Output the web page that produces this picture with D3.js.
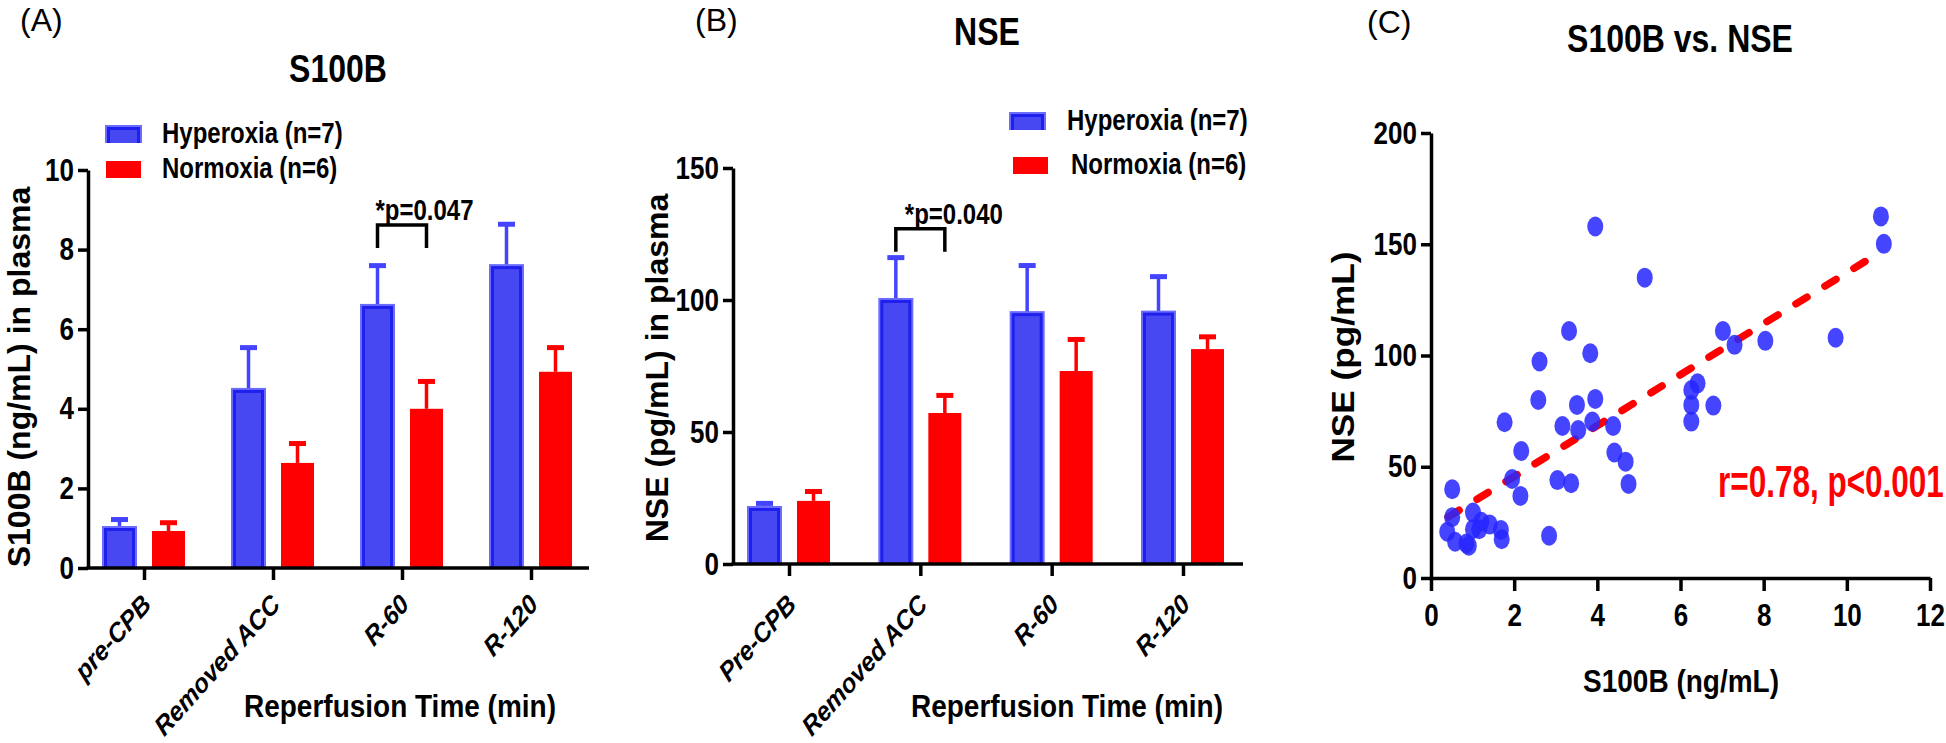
<!DOCTYPE html>
<html>
<head>
<meta charset="utf-8">
<script src="https://cdnjs.cloudflare.com/ajax/libs/d3/7.8.5/d3.min.js"></script>
<style>
	body { margin: 0; background: #fff; }
	svg text { font-family: "Liberation Sans", Arial, Helvetica, sans-serif; font-weight: bold; fill: #000; }
	.axis path, .axis line { stroke: #000; stroke-width: 3.5; }
</style>
</head>
<body>
<svg id="chart" width="1946" height="743"></svg>
<script>

	// ---- Data ---- //
	const groups = ["Hyperoxia (n=7)", "Normoxia (n=6)"];
	const timesA = ["pre-CPB", "Removed ACC", "R-60", "R-120"];
	const timesB = ["Pre-CPB", "Removed ACC", "R-60", "R-120"];

	// S100B (ng/mL), mean and upper error
	const s100bHyper = [1.03, 4.50, 6.61, 7.61];
	const s100bHyperErr = [0.25, 1.10, 1.05, 1.09];
	const s100bNormo = [0.93, 2.64, 4.00, 4.93];
	const s100bNormoErr = [0.27, 0.55, 0.75, 0.67];
	const s100bTicks = [0, 2, 4, 6, 8, 10];

	// NSE (pg/mL), mean and upper error
	const nseHyper = [21.6, 100.4, 95.4, 95.6];
	const nseHyperErr = [2.3, 16.6, 18.6, 14.2];
	const nseNormo = [23.9, 57.2, 73.1, 81.4];
	const nseNormoErr = [4.5, 7.6, 12.9, 5.6];
	const nseTicks = [0, 50, 100, 150];

	// significance brackets
	const sigA = { cat: "R-60", level: 8.62, label: "*p=0.047" };
	const sigB = { cat: "Removed ACC", level: 127, label: "*p=0.040" };

	// scatter: S100B vs NSE
	const scatS100b = [3.95, 5.14, 3.32, 3.83, 2.61, 7.02, 7.30, 8.04, 9.73, 10.82, 10.89,
		6.41, 6.26, 6.26, 6.26, 6.79, 2.58, 1.77, 3.51, 3.95, 3.88, 3.16, 3.54, 4.38,
		2.17, 4.41, 4.68, 1.95, 3.04, 3.37, 4.75, 2.15, 0.51, 2.84, 0.51, 1.01, 0.39,
		0.58, 0.91, 0.85, 1.01, 1.21, 1.16, 1.41, 1.68, 1.70];
	const scatNse = [158, 135, 111, 101, 97.3, 111, 104.8, 106.6, 108, 162.5, 150.2,
		87.5, 84.5, 77.8, 70.3, 77.5, 80, 70, 77.8, 80.5, 70.3, 68.3, 66.5, 68.3,
		57.1, 56.4, 52.3, 44.5, 44, 42.6, 42.3, 36.9, 39.9, 19, 27.3, 29.4, 20.8,
		16.3, 14.5, 15.5, 21.9, 25.3, 21.9, 24.1, 21.6, 17.4];
	const fitX = [0.41, 10.82];
	const fitY = [27.4, 146.6];
	const corrLabel = "r=0.78, p<0.001";
	const scatXTicks = [0, 2, 4, 6, 8, 10, 12];
	const scatYTicks = [0, 50, 100, 150, 200];

	// ---- Setup ---- //
	const svg = d3.select("#chart");
	const blue = "#4444ff", red = "#ff0000";
	const barW = 33, barOff = 24.5, capW = 17;
	const K = 1.22; // vertical stretch of the lettering

	function txt(g, x, y, s, o) {
		o = o || {};
		let tr = "translate(" + x + "," + y + ") scale(1," + (o.k || 1) + ")";
		if (o.rotate) tr += " rotate(" + o.rotate + ")";
		return g.append("text")
			.attr("transform", tr)
			.attr("text-anchor", o.anchor || "start")
			.style("font-size", (o.size || 24) + "px")
			.style("font-weight", o.weight || "bold")
			.style("font-style", o.italic ? "italic" : "normal")
			.style("fill", o.fill || "#000")
			.text(s);
	}

	function drawBar(g, x, y, w, h, idx) {
		if (idx === 0) {
			g.append("rect").attr("x", x - 1).attr("y", y - 1).attr("width", w + 2).attr("height", h + 1).attr("fill", "#6c6cff");
			g.append("rect").attr("x", x + 1).attr("y", y + 1).attr("width", w - 2).attr("height", h - 1).attr("fill", "#1f1fee");
			g.append("rect").attr("x", x + 4).attr("y", y + 4).attr("width", w - 8).attr("height", h - 4).attr("fill", "#4848f2");
		} else {
			g.append("rect").attr("x", x).attr("y", y).attr("width", w).attr("height", h).attr("fill", red);
		}
	}

	function barPanel(cfg) {
		let g = svg.append("g");
		let x = d3.scalePoint().domain(cfg.cats).range(cfg.xRange);
		let y = d3.scaleLinear().domain([0, cfg.ticks[cfg.ticks.length - 1]]).range(cfg.yRange);

		// BARS + ERRORS
		cfg.series.forEach((s, si) => {
			let off = si === 0 ? -barOff : barOff;
			let col = si === 0 ? blue : red;
			s.vals.forEach((v, i) => {
				let cx = x(cfg.cats[i]) + off;
				let top = y(v + s.err[i]);
				g.append("line")
					.attr("x1", cx).attr("x2", cx)
					.attr("y1", y(v)).attr("y2", top + 2)
					.attr("stroke", col).attr("stroke-width", 3.5);
				g.append("rect")
					.attr("x", cx - capW / 2).attr("y", top)
					.attr("width", capW).attr("height", 5)
					.attr("fill", col);
				drawBar(g, cx - barW / 2, y(v), barW, y(0) - y(v), si);
			});
		});

		// Y-AXIS
		g.append("g")
			.attr("class", "axis")
			.attr("transform", "translate(" + cfg.axisX + ",0)")
			.call(d3.axisLeft(y).tickValues(cfg.ticks).tickSize(10).tickPadding(4).tickSizeOuter(0))
			.selectAll("text")
				.attr("transform", "scale(1," + K + ")")
				.style("font-size", "26px");

		// X-AXIS
		let xa = g.append("g")
			.attr("class", "axis")
			.attr("transform", "translate(0," + y(0) + ")")
			.call(d3.axisBottom(x).tickSize(12).tickSizeOuter(0));
		xa.select(".domain").remove();
		xa.append("line")
			.attr("x1", cfg.axisX - 1.5).attr("x2", cfg.axisEnd)
			.attr("stroke", "#000").attr("stroke-width", 3.5);
		xa.selectAll(".tick text")
			.attr("x", 0).attr("y", 0).attr("dy", 0)
			.attr("transform", "translate(8," + (606 - cfg.yRange[0] + 568 - 568) + ") scale(1,1.12) rotate(-45)")
			.attr("text-anchor", "end")
			.style("font-size", "24px")
			.style("font-style", "italic");

		// SIGNIFICANCE
		let bx1 = x(cfg.sig.cat) - barOff, bx2 = x(cfg.sig.cat) + barOff, by = y(cfg.sig.level);
		g.append("path")
			.attr("d", d3.line()([[bx1, by + 23], [bx1, by], [bx2, by], [bx2, by + 23]]))
			.attr("fill", "none").attr("stroke", "#000").attr("stroke-width", 3.5);
		txt(g, bx1 + cfg.sigDx, by - 5, cfg.sig.label, { size: 24, k: K });

		// LEGEND
		cfg.legend.forEach((l, i) => {
			drawBar(g, l.x, l.y, 35, 17, i);
			txt(g, l.tx, l.y + 17, groups[i], { size: 24, k: K });
		});

		// TITLES
		txt(g, cfg.title.x, cfg.title.y, cfg.title.text, { size: 32, anchor: "middle", k: K });
		txt(g, cfg.ylab.x, cfg.ylab.y, cfg.ylab.text, { size: 32, anchor: "middle", rotate: -90 });
		txt(g, cfg.xlab.x, 717, "Reperfusion Time (min)", { size: 28, anchor: "middle", k: 1.15 });
		txt(g, cfg.tag.x, 31, cfg.tag.text, { size: 32, weight: "normal" });
	}

	// Panel A
	barPanel({
		cats: timesA, ticks: s100bTicks,
		xRange: [144, 531], yRange: [568, 170], axisX: 88, axisEnd: 589,
		series: [{ vals: s100bHyper, err: s100bHyperErr }, { vals: s100bNormo, err: s100bNormoErr }],
		sig: sigA, sigDx: -2,
		legend: [{ x: 106, y: 126, tx: 162 }, { x: 106, y: 161, tx: 162 }],
		title: { x: 338, y: 82, text: "S100B" },
		ylab: { x: 30, y: 377, text: "S100B (ng/mL) in plasma" },
		xlab: { x: 400 },
		tag: { x: 20, text: "(A)" }
	});

	// Panel B
	barPanel({
		cats: timesB, ticks: nseTicks,
		xRange: [789, 1183], yRange: [564, 168], axisX: 733, axisEnd: 1243,
		series: [{ vals: nseHyper, err: nseHyperErr }, { vals: nseNormo, err: nseNormoErr }],
		sig: sigB, sigDx: 9,
		legend: [{ x: 1010, y: 113, tx: 1067 }, { x: 1013, y: 157, tx: 1071 }],
		title: { x: 987, y: 45, text: "NSE" },
		ylab: { x: 668, y: 368, text: "NSE (pg/mL) in plasma" },
		xlab: { x: 1067 },
		tag: { x: 695, text: "(B)" }
	});

	// Panel C
	{
		let g = svg.append("g");
		let x = d3.scaleLinear().domain([0, 12]).range([1431, 1930]);
		let y = d3.scaleLinear().domain([0, 200]).range([578, 133]);

		// FIT LINE
		g.append("line")
			.attr("x1", x(fitX[0])).attr("y1", y(fitY[0]))
			.attr("x2", x(fitX[1])).attr("y2", y(fitY[1]))
			.attr("stroke", red).attr("stroke-width", 7.5)
			.attr("stroke-linecap", "round")
			.attr("stroke-dasharray", "13 21");

		// DOTS
		g.selectAll("ellipse")
			.data(d3.zip(scatS100b, scatNse))
			.enter().append("ellipse")
			.attr("cx", d => x(d[0]))
			.attr("cy", d => y(d[1]))
			.attr("rx", 8)
			.attr("ry", 10)
			.attr("fill", "#2626ff")
			.attr("fill-opacity", 0.86);

		// AXES
		g.append("g")
			.attr("class", "axis")
			.attr("transform", "translate(" + x(0) + ",0)")
			.call(d3.axisLeft(y).tickValues(scatYTicks).tickSize(10).tickPadding(4).tickSizeOuter(0))
			.selectAll("text")
				.attr("transform", "scale(1," + K + ")")
				.style("font-size", "26px");
		g.append("g")
			.attr("class", "axis")
			.attr("transform", "translate(0," + y(0) + ")")
			.call(d3.axisBottom(x).tickValues(scatXTicks).tickSize(13).tickPadding(8).tickSizeOuter(0))
			.selectAll("text")
				.attr("transform", "scale(1," + K + ")")
				.style("font-size", "26px");

		txt(g, 1718, 497, corrLabel, { size: 31.5, fill: red, k: 1.4 });
		txt(g, 1680, 52, "S100B vs. NSE", { size: 32, anchor: "middle", k: K });
		txt(g, 1681, 692, "S100B (ng/mL)", { size: 28, anchor: "middle", k: 1.15 });
		txt(g, 1354, 357, "NSE (pg/mL)", { size: 32, anchor: "middle", rotate: -90, k: 1.1 });
		txt(g, 1367, 33, "(C)", { size: 32, weight: "normal" });
	}
</script>
</body>
</html>
